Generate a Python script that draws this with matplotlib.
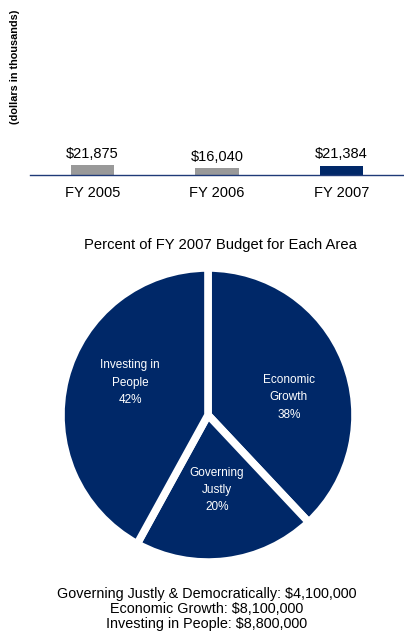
import matplotlib.pyplot as plt

plt.rcParams['font.family'] = ['Liberation Sans', 'DejaVu Sans']

# bar chart data
years = ["FY 2005", "FY 2006", "FY 2007"]
totals = [21875, 16040, 21384]
bar_colors = ["#999999", "#999999", "#002868"]

# pie data (FY 2007 split)
areas = ["Economic\nGrowth", "Governing\nJustly", "Investing in\nPeople"]
shares = [38, 20, 42]
summary_names = ["Governing Justly & Democratically", "Economic Growth", "Investing in People"]
summary_amounts = ["$4,100,000", "$8,100,000", "$8,800,000"]

NAVY = "#002868"
W, H = 404, 636

fig = plt.figure(figsize=(W / 100, H / 100), dpi=100)

# ┏━━━━━━━━━━ top: totals per year ━━━━━━━━━━┓
ax = fig.add_axes([30 / W, 1 - 175 / H, 374 / W, 175 / H])
x = range(len(years))
bars = ax.bar(x, totals, width=0.345, color=bar_colors)
ax.set_ylim(0, 400000)
ax.set_xlim(-0.5, 2.5)
ax.bar_label(bars, labels=[f"${v:,}" for v in totals], padding=3, fontsize=10.5)
ax.set_xticks(list(x))
ax.set_xticklabels(years, fontsize=10.5)
ax.tick_params(axis="x", length=0, pad=8)
ax.set_yticks([])
for s in ["top", "left", "right"]:
    ax.spines[s].set_visible(False)
ax.spines["bottom"].set_color("#1F3A78")
ax.spines["bottom"].set_linewidth(1)
ax.patch.set_alpha(0)

fig.text(15 / W, 1 - 67 / H, "(dollars in thousands)", rotation=90,
         ha="center", va="center", fontsize=7.8, fontweight="bold")

# ┏━━━━━━━━━━ pie: FY 2007 by area ━━━━━━━━━━┓
cx, cy, r = 208, 415, 150
pax = fig.add_axes([(cx - r) / W, 1 - (cy + r) / H, 2 * r / W, 2 * r / H])
wedges, texts = pax.pie(
    shares,
    labels=[f"{a}\n{s}%" for a, s in zip(areas, shares)],
    startangle=90,
    counterclock=False,
    colors=[NAVY] * 3,
    labeldistance=0.55,
    wedgeprops=dict(edgecolor="white", linewidth=5.5),
    textprops=dict(color="white", fontsize=8.5, linespacing=1.6),
)
label_pos = [(0.55, 0.12), (0.06, -0.51), (-0.53, 0.22)]
for t, p in zip(texts, label_pos):
    t.set_position(p)
    t.set_ha("center")
    t.set_va("center")
pax.set_xlim(-1.02, 1.02)
pax.set_ylim(-1.02, 1.02)
pax.set_aspect("equal")

fig.text(220 / W, 1 - 245 / H, "Percent of FY 2007 Budget for Each Area",
         ha="center", va="center", fontsize=10.6)

summary = "\n".join(f"{n}: {a}" for n, a in zip(summary_names, summary_amounts))
fig.text(207 / W, 1 - 609 / H, summary, ha="center", va="center",
         fontsize=10.4, linespacing=1.1)

fig.savefig("out.png", dpi=100)
